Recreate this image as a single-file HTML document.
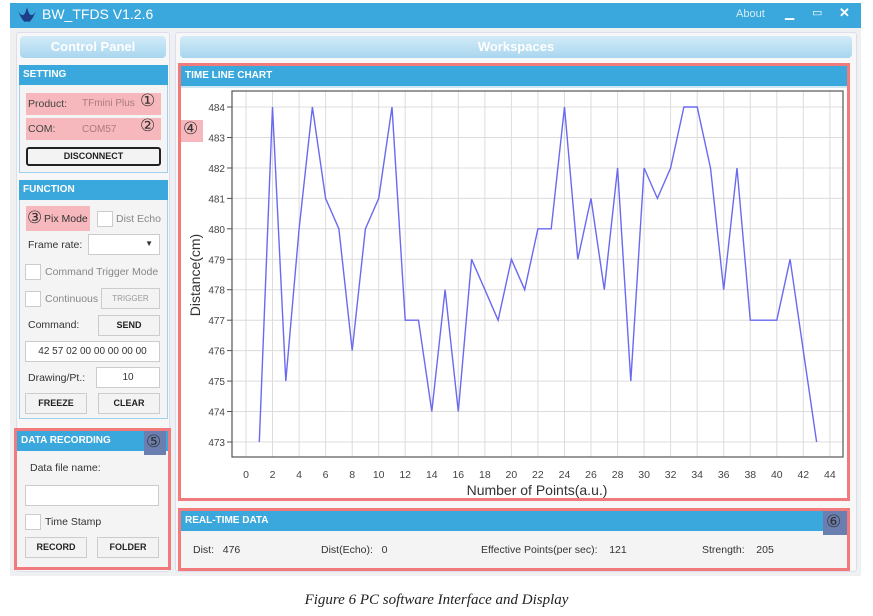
<!DOCTYPE html>
<html><head><meta charset="utf-8"><style>
body{margin:0;width:873px;height:616px;background:#fff;position:relative;overflow:hidden;font-family:"Liberation Sans",sans-serif;}
.a{position:absolute;box-sizing:border-box;}
.hdr{background:#3aa8dc;color:#fff;font-size:10px;font-weight:bold;padding-left:4px;line-height:20px;}
.btn{background:#f3f3f3;border:1px solid #ccc;font-size:9px;font-weight:bold;text-align:center;color:#222;}
.inp{background:#fff;border:1px solid #ccc;font-size:10px;text-align:center;color:#333;}
.t{font-size:10.5px;color:#333;position:absolute;}
.cb{position:absolute;width:14px;height:14px;background:#fff;border:1px solid #ccc;}
.pink{background:#f6b8bc;}
.circ{font-family:"Liberation Serif","DejaVu Serif",serif;font-size:17px;color:#333;position:absolute;}
</style></head><body>
<div class="a" style="left:10px;top:3px;width:851px;height:25px;background:#3aa8dc;"></div>
<svg class="a" style="left:16px;top:5px" width="22" height="20"><path d="M2 6 Q8 16 11 2 Q14 16 20 6 Q14 20 11 16 Q8 20 2 6Z" fill="#1d3f8a"/></svg>
<div class="a" style="left:42px;top:6px;color:#fff;font-size:14px;">BW_TFDS V1.2.6</div>
<div class="a" style="left:736px;top:8px;color:#d6ecf8;font-size:11px;">About</div>
<div class="a" style="left:785px;top:6px;color:#fff;font-size:12px;">▁</div>
<div class="a" style="left:812px;top:6px;color:#fff;font-size:11px;">▭</div>
<div class="a" style="left:839px;top:5px;color:#fff;font-size:13px;font-weight:bold;">✕</div>
<div class="a" style="left:10px;top:28px;width:851px;height:548px;background:#eef0f2;"></div>
<!-- control panel -->
<div class="a" style="left:16px;top:32px;width:154px;height:540px;background:#f7f7f7;border:1px solid #dde;border-radius:3px;"></div>
<div class="a" style="left:20px;top:36px;width:146px;height:22px;background:linear-gradient(#d3ebf7,#a8d6ef);border-radius:4px;color:#fff;font-weight:bold;font-size:13px;text-align:center;line-height:22px;">Control Panel</div>
<div class="a" style="left:19px;top:65px;width:149px;height:108px;border:1px solid #9fd0ee;background:#f4f4f4;"></div>
<div class="a hdr" style="left:19px;top:65px;width:149px;">SETTING</div>
<div class="a pink" style="left:26px;top:93px;width:135px;height:22px;"></div>
<div class="t" style="left:28px;top:98px;color:#444;">Product:</div><div class="t" style="left:82px;top:98px;color:#aa7b7f;font-size:10px;">TFmini Plus</div><div class="circ" style="left:140px;top:91px;">①</div>
<div class="a pink" style="left:26px;top:118px;width:135px;height:22px;"></div>
<div class="t" style="left:28px;top:123px;color:#444;">COM:</div><div class="t" style="left:82px;top:124px;color:#aa7b7f;font-size:10px;">COM57</div><div class="circ" style="left:140px;top:116px;">②</div>
<div class="a btn" style="left:26px;top:147px;width:135px;height:19px;border:2px solid #222;border-radius:3px;line-height:15px;">DISCONNECT</div>
<div class="a" style="left:19px;top:180px;width:149px;height:239px;border:1px solid #9fd0ee;background:#f4f4f4;"></div>
<div class="a hdr" style="left:19px;top:180px;width:149px;">FUNCTION</div>
<div class="a pink" style="left:26px;top:206px;width:64px;height:25px;"></div>
<div class="circ" style="left:27px;top:208px;">③</div><div class="t" style="left:44px;top:213px;">Pix Mode</div>
<div class="cb" style="left:97px;top:211px;"></div><div class="t" style="left:116px;top:213px;color:#888;">Dist Echo</div>
<div class="t" style="left:28px;top:239px;">Frame rate:</div>
<div class="a inp" style="left:88px;top:234px;width:72px;height:21px;"><span style="position:absolute;right:6px;top:4px;font-size:8px">▼</span></div>
<div class="cb" style="left:25px;top:264px;"></div><div class="t" style="left:45px;top:266px;color:#888;">Command Trigger Mode</div>
<div class="cb" style="left:25px;top:291px;"></div><div class="t" style="left:45px;top:293px;color:#888;">Continuous</div>
<div class="a btn" style="left:101px;top:288px;width:59px;height:21px;line-height:19px;color:#999;font-weight:normal;font-size:8px;">TRIGGER</div>
<div class="t" style="left:28px;top:319px;">Command:</div>
<div class="a btn" style="left:98px;top:315px;width:62px;height:21px;line-height:19px;">SEND</div>
<div class="a inp" style="left:25px;top:341px;width:135px;height:21px;line-height:19px;">42 57 02 00 00 00 00 00</div>
<div class="t" style="left:28px;top:372px;">Drawing/Pt.:</div>
<div class="a inp" style="left:96px;top:367px;width:64px;height:21px;line-height:19px;">10</div>
<div class="a btn" style="left:25px;top:393px;width:62px;height:21px;line-height:19px;">FREEZE</div>
<div class="a btn" style="left:98px;top:393px;width:62px;height:21px;line-height:19px;">CLEAR</div>
<div class="a" style="left:14px;top:428px;width:157px;height:142px;border:3px solid #f07a7c;background:#f4f4f4;"></div>
<div class="a hdr" style="left:17px;top:431px;width:151px;">DATA RECORDING</div>
<div class="a" style="left:144px;top:431px;width:22px;height:24px;background:#6a7fb0;"></div><div class="circ" style="left:146px;top:432px;">⑤</div>
<div class="t" style="left:30px;top:462px;">Data file name:</div>
<div class="a inp" style="left:25px;top:485px;width:134px;height:21px;"></div>
<div class="cb" style="left:25px;top:514px;"></div><div class="t" style="left:45px;top:516px;">Time Stamp</div>
<div class="a btn" style="left:25px;top:537px;width:62px;height:21px;line-height:19px;">RECORD</div>
<div class="a btn" style="left:97px;top:537px;width:62px;height:21px;line-height:19px;">FOLDER</div>
<!-- workspace -->
<div class="a" style="left:175px;top:32px;width:682px;height:540px;background:#f7f7f7;border:1px solid #dde;border-radius:3px;"></div>
<div class="a" style="left:180px;top:36px;width:672px;height:22px;background:linear-gradient(#d3ebf7,#a8d6ef);border-radius:4px;color:#fff;font-weight:bold;font-size:13px;text-align:center;line-height:22px;">Workspaces</div>
<div class="a" style="left:178px;top:63px;width:672px;height:438px;border:3px solid #f07a7c;background:#fff;"></div>
<div class="a hdr" style="left:181px;top:66px;width:666px;">TIME LINE CHART</div>
<div class="a" style="left:181px;top:86px;width:666px;height:2px;background:#cfe6f3;"></div>
<svg class="a" style="left:0;top:0" width="873" height="616">
<g stroke="#dcdcdc" stroke-width="1">
<line x1="232" y1="107" x2="843" y2="107"/><line x1="232" y1="137.5" x2="843" y2="137.5"/><line x1="232" y1="168" x2="843" y2="168"/><line x1="232" y1="198.4" x2="843" y2="198.4"/><line x1="232" y1="228.8" x2="843" y2="228.8"/><line x1="232" y1="259.3" x2="843" y2="259.3"/><line x1="232" y1="289.7" x2="843" y2="289.7"/><line x1="232" y1="320.2" x2="843" y2="320.2"/><line x1="232" y1="350.6" x2="843" y2="350.6"/><line x1="232" y1="381.1" x2="843" y2="381.1"/><line x1="232" y1="411.5" x2="843" y2="411.5"/><line x1="232" y1="442" x2="843" y2="442"/>
<line x1="246" y1="91" x2="246" y2="457"/><line x1="272.5" y1="91" x2="272.5" y2="457"/><line x1="299.1" y1="91" x2="299.1" y2="457"/><line x1="325.6" y1="91" x2="325.6" y2="457"/><line x1="352.2" y1="91" x2="352.2" y2="457"/><line x1="378.7" y1="91" x2="378.7" y2="457"/><line x1="405.2" y1="91" x2="405.2" y2="457"/><line x1="431.8" y1="91" x2="431.8" y2="457"/><line x1="458.3" y1="91" x2="458.3" y2="457"/><line x1="484.9" y1="91" x2="484.9" y2="457"/><line x1="511.4" y1="91" x2="511.4" y2="457"/><line x1="537.9" y1="91" x2="537.9" y2="457"/><line x1="564.5" y1="91" x2="564.5" y2="457"/><line x1="591" y1="91" x2="591" y2="457"/><line x1="617.6" y1="91" x2="617.6" y2="457"/><line x1="644.1" y1="91" x2="644.1" y2="457"/><line x1="670.6" y1="91" x2="670.6" y2="457"/><line x1="697.2" y1="91" x2="697.2" y2="457"/><line x1="723.7" y1="91" x2="723.7" y2="457"/><line x1="750.3" y1="91" x2="750.3" y2="457"/><line x1="776.8" y1="91" x2="776.8" y2="457"/><line x1="803.3" y1="91" x2="803.3" y2="457"/><line x1="829.9" y1="91" x2="829.9" y2="457"/>
</g>
<rect x="232" y="91" width="611" height="366" fill="none" stroke="#555" stroke-width="1.2"/>
<g stroke="#555" stroke-width="1">
<line x1="227" y1="107" x2="232" y2="107"/><line x1="227" y1="137.5" x2="232" y2="137.5"/><line x1="227" y1="168" x2="232" y2="168"/><line x1="227" y1="198.4" x2="232" y2="198.4"/><line x1="227" y1="228.8" x2="232" y2="228.8"/><line x1="227" y1="259.3" x2="232" y2="259.3"/><line x1="227" y1="289.7" x2="232" y2="289.7"/><line x1="227" y1="320.2" x2="232" y2="320.2"/><line x1="227" y1="350.6" x2="232" y2="350.6"/><line x1="227" y1="381.1" x2="232" y2="381.1"/><line x1="227" y1="411.5" x2="232" y2="411.5"/><line x1="227" y1="442" x2="232" y2="442"/>
</g>
<g fill="#444" font-size="10" text-anchor="end" font-family="Liberation Sans,sans-serif">
<text x="225" y="111">484</text><text x="225" y="141.5">483</text><text x="225" y="172">482</text><text x="225" y="202.4">481</text><text x="225" y="232.8">480</text><text x="225" y="263.3">479</text><text x="225" y="293.7">478</text><text x="225" y="324.2">477</text><text x="225" y="354.6">476</text><text x="225" y="385.1">475</text><text x="225" y="415.5">474</text><text x="225" y="446">473</text>
</g>
<g fill="#444" font-size="10.5" text-anchor="middle" font-family="Liberation Sans,sans-serif">
<text x="246" y="478">0</text><text x="272.5" y="478">2</text><text x="299.1" y="478">4</text><text x="325.6" y="478">6</text><text x="352.2" y="478">8</text><text x="378.7" y="478">10</text><text x="405.2" y="478">12</text><text x="431.8" y="478">14</text><text x="458.3" y="478">16</text><text x="484.9" y="478">18</text><text x="511.4" y="478">20</text><text x="537.9" y="478">22</text><text x="564.5" y="478">24</text><text x="591" y="478">26</text><text x="617.6" y="478">28</text><text x="644.1" y="478">30</text><text x="670.6" y="478">32</text><text x="697.2" y="478">34</text><text x="723.7" y="478">36</text><text x="750.3" y="478">38</text><text x="776.8" y="478">40</text><text x="803.3" y="478">42</text><text x="829.9" y="478">44</text>
</g>
<text x="537" y="495" font-size="14" fill="#333" text-anchor="middle" font-family="Liberation Sans,sans-serif">Number of Points(a.u.)</text>
<text transform="translate(200,275) rotate(-90)" font-size="14" fill="#333" text-anchor="middle" font-family="Liberation Sans,sans-serif">Distance(cm)</text>
<polyline fill="none" stroke="#6a6af0" stroke-width="1.4" points="259.3,442 272.5,107 285.8,381.1 299.1,228.8 312.4,107 325.6,198.4 338.9,228.8 352.2,350.6 365.4,228.8 378.7,198.4 392,107 405.2,320.2 418.5,320.2 431.8,411.5 445.1,289.7 458.3,411.5 471.6,259.3 484.9,289.7 498.1,320.2 511.4,259.3 524.7,289.7 537.9,228.8 551.2,228.8 564.5,107 577.8,259.3 591,198.4 604.3,289.7 617.6,168 630.8,381.1 644.1,168 657.4,198.4 670.6,168 683.9,107 697.2,107 710.5,168 723.7,289.7 737,168 750.3,320.2 763.5,320.2 776.8,320.2 790.1,259.3 803.3,350.6 816.6,442"/>
</svg>
<div class="a pink" style="left:181px;top:120px;width:22px;height:22px;"></div><div class="circ" style="left:183px;top:119px;">④</div>
<div class="a" style="left:178px;top:508px;width:672px;height:63px;border:3px solid #f07a7c;background:#f4f4f4;"></div>
<div class="a hdr" style="left:181px;top:511px;width:666px;">REAL-TIME DATA</div>
<div class="a" style="left:823px;top:511px;width:24px;height:24px;background:#6a7fb0;"></div><div class="circ" style="left:826px;top:512px;">⑥</div>
<div class="t" style="left:193px;top:544px;">Dist:&nbsp;&nbsp; 476</div>
<div class="t" style="left:321px;top:544px;">Dist(Echo):&nbsp;&nbsp; 0</div>
<div class="t" style="left:481px;top:544px;">Effective Points(per sec):&nbsp;&nbsp;&nbsp; 121</div>
<div class="t" style="left:702px;top:544px;">Strength:&nbsp;&nbsp;&nbsp; 205</div>
<div class="a" style="left:0;top:592px;width:873px;text-align:center;font-family:'Liberation Serif',serif;font-style:italic;font-size:15px;color:#222;">Figure 6 PC software Interface and Display</div>
</body></html>
